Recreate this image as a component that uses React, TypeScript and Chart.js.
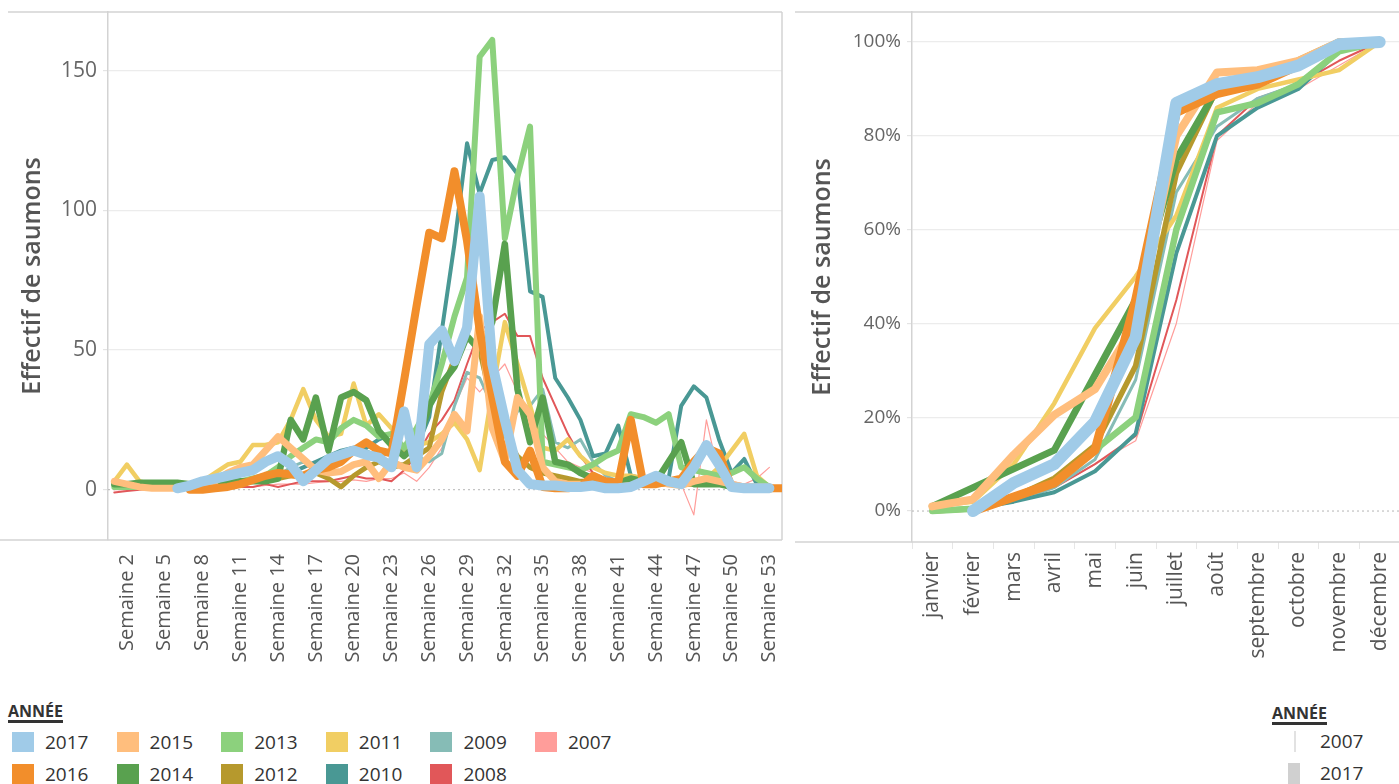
import React, { useEffect, useRef } from "react";
import { Chart, registerables } from "chart.js";
Chart.register(...registerables);

// ---------- data ----------
const years = ["2017", "2016", "2015", "2014", "2013", "2012", "2011", "2010", "2009", "2008", "2007"];
const yearColors = ["#a0cbe8", "#f28e2b", "#ffbe7d", "#59a14f", "#8cd17d", "#b6992d", "#f1ce63", "#499894", "#86bcb6", "#e15759", "#ff9d9a"];

const weeks = [
  1, 2, 3, 4, 5, 6, 7, 8, 9, 10, 11, 12, 13, 14, 15, 16, 17, 18, 19, 20, 21, 22, 23, 24, 25, 26, 27,
  28, 29, 30, 31, 32, 33, 34, 35, 36, 37, 38, 39, 40, 41, 42, 43, 44, 45, 46, 47, 48, 49, 50, 51, 52, 53, 54,
];
const weekTicks = [2, 5, 8, 11, 14, 17, 20, 23, 26, 29, 32, 35, 38, 41, 44, 47, 50, 53];
const weeklyYTicks = [0, 50, 100, 150];

const w2017 = [null, null, null, null, null, 0.5, 1.5, 3, 4, 5, 6, 7, 10, 12, 9, 3, 7, 11, 12.5, 14, 12.5, 11.5, 8, 28, 8, 52, 57, 46, 58, 105, 45, 25, 7, 2, 1.5, 1.5, 1, 1, 1.5, 0.5, 0.5, 1, 3, 5, 3, 2, 8, 16, 9, 1, 0.5, 0.5, 0.5, null];
const w2016 = [null, null, null, null, null, null, 0, 0, 0.5, 1, 2, 3.5, 5, 6, 5.5, 5, 7, 8, 10, 14, 17, 14, 13, 39, 66, 92, 90, 114, 89, 57, 33, 10, 5, 14, 1, 0.5, 0.5, 1, 5, 3, 2.5, 25, 2, 2, 3, 4, 10, 15, 13, 1, 0.5, 0.5, 0.5, 0.5];
const w2015 = [3, 2, 1, 0.5, 0.5, 0.5, 1, 1, 3, 6, 8, 9, 14, 19, 15, 11, 7, 6, 6.5, 9, 10, 4, 10, 8, 7, 12, 18, 27, 21, 62, 22, 10, 33, 27, 8, 3, 2, 2, 1.5, 1, 1, 1.5, 2, 3, 2, 1.5, 3, 4, 3, 2, 1, 1, 1, null];
const w2014 = [2, 2, 2.5, 2.5, 2.5, 2.5, 2, 2, 2, 2.5, 3, 3, 3, 4, 25, 18, 33, 14, 33, 35, 32, 21, 16, 12, 16, 30, 38, 44, 55, 50, 60, 88, 36, 17, 33, 10, 9, 6, 4, 3, 2.5, 4, 3, 3, 10, 17, 2, 2, 2, 1, 1, 1, 1, null];
const w2013 = [1, 1, 1, 1.5, 1.5, 1.5, 2, 2, 2, 2.5, 3, 4, 5, 8, 12, 15, 18, 17, 22, 25, 23, 19, 20, 15, 22, 30, 45, 62, 76, 155, 161, 90, 112, 130, 10, 9, 8, 7, 9, 12, 14, 27, 26, 24, 27, 8, 7, 6, 5, 6, 8, 4, 1, null];
const w2012 = [1.5, 1.5, 1.5, 1.5, 2, 2, 2, 2, 2, 2.5, 3, 3, 3.5, 4, 5, 5, 6, 4, 1, 5, 8, 10, 8, 9, 12, 15, 35, 47, 55, 50, 30, 20, 12, 8, 6, 5, 4, 3, 3, 2, 2, 2, 2, 2, 2, 2, 2, 2, 2, 1.5, 1, 1, 1, null];
const w2011 = [3, 9, 3, 2, 2, 2, 2, 3, 6, 9, 10, 16, 16, 17, 25, 36, 25, 19, 20, 38, 23, 27, 22, 14, 16, 17, 20, 24, 18, 7, 35, 60, 45, 30, 15, 14, 18, 12, 8, 6, 5, 5, 4, 3, 3, 3, 3, 4, 8, 14, 20, 5, 1, null];
const w2010 = [1, 1, 1, 1, 1.5, 1.5, 2, 2, 2, 2, 3, 3, 4, 5, 6, 8, 10, 12, 14, 15, 15, 18, 20, 12, 15, 26, 57, 88, 124, 106, 118, 119, 113, 71, 69, 40, 33, 25, 12, 13, 23, 5, 4, 5, 4, 30, 37, 33, 18, 6, 11, 2, 1, null];
const w2009 = [1, 1, 1, 1, 1.5, 1.5, 1.5, 2, 2, 2, 2.5, 3, 3, 5, 8, 10, 8, 10, 12, 15, 14, 12, 10, 9, 12, 10, 13, 30, 42, 40, 30, 20, 28, 30, 36, 17, 15, 18, 10, 5, 3, 3, 2, 2, 2, 2, 2, 2, 1.5, 1.5, 1, 1, 1, null];
const w2008 = [-1, -0.5, 0, 0.5, 0.5, 0.5, 0.5, 0.5, 1, 1, 1, 1, 2, 1, 2, 3, 3, 3, 4, 5, 4, 4, 3, 7, 12, 20, 25, 32, 45, 57, 60, 63, 55, 55, 40, 30, 20, 12, 6, 4, 3, 3, 2, 2, 2, 2, 2, 2, 1.5, 1, 1, 1, 1, null];
const w2007 = [0, 0, 0, 0, 0.5, 0.5, 0.5, 0.5, 1, 1, 1, 1, 1.5, 2, 2, 2, 2.5, 3, 3, 3.5, 3, 4, 4, 6, 3, 8, 15, 30, 40, 35, 40, 45, 35, 25, 20, 15, 10, 8, 6, 4, 3, 3, 2, 2, 3, 2, -9, 25, 5, 3, 2, 4, 8, null];
const weeklySeries = [w2017, w2016, w2015, w2014, w2013, w2012, w2011, w2010, w2009, w2008, w2007];

const months = ["janvier", "février", "mars", "avril", "mai", "juin", "juillet", "août", "septembre", "octobre", "novembre", "décembre"];
const pctYTicks = [0, 20, 40, 60, 80, 100];
const m2017 = [null, 0, 6, 10, 19, 37, 87, 91, 92.5, 95, 99.5, 100];
const m2016 = [null, 0, 3, 6, 13, 45, 85, 89, 91, 95, 99.5, 100];
const m2015 = [1, 2.5, 12, 20.5, 26, 40, 80, 93.5, 94, 96, 100, 100];
const m2014 = [1, 5, 9, 13, 29, 45, 75, 90, 93, 96, 100, 100];
const m2013 = [0, 0.5, 3, 6, 13, 20, 60, 85, 87, 91, 98, 100];
const m2012 = [0, 0.5, 3, 7, 14, 31, 72, 90, 93, 96, 100, 100];
const m2011 = [1, 2, 10, 23, 39, 50, 63, 86, 90, 92, 94, 100];
const m2010 = [0, 0.5, 2, 4, 8.5, 16.5, 55, 80, 86, 90, 98, 100];
const m2009 = [0, 0.5, 2, 5, 11, 28, 68, 82, 88, 91, 98, 100];
const m2008 = [0, 0.5, 2, 5, 10, 16, 45, 80, 88, 91, 96, 100];
const m2007 = [0, 0.5, 2, 5, 10, 15, 40, 79, 87, 90, 95, 100];
const monthlySeries = [m2017, m2016, m2015, m2014, m2013, m2012, m2011, m2010, m2009, m2008, m2007];

const leftWidths = [10, 8, 7, 6.5, 6, 5, 4.5, 4, 3, 2, 1.2];
const rightWidths = [12, 9, 8, 7, 6.5, 5.5, 4.5, 4, 3, 2, 1.2];

// legend layout: columns of two (column-major)
const legendColumns = [["2017", "2016"], ["2015", "2014"], ["2013", "2012"], ["2011", "2010"], ["2009", "2008"], ["2007"]];

const FONT = '"Open Sans", "DejaVu Sans", sans-serif';
const FRAME = "#d3d3d3";

const framePlugin = {
  id: "frame",
  beforeDatasetsDraw(chart: any, _args: any, opts: any) {
    const { ctx, chartArea: a } = chart;
    ctx.save();
    const y0 = chart.scales.y.getPixelForValue(0);
    ctx.strokeStyle = "#b5b5b5";
    ctx.lineWidth = 1;
    ctx.setLineDash([2, 3]);
    ctx.beginPath();
    ctx.moveTo(a.left, y0);
    ctx.lineTo(a.right, y0);
    ctx.stroke();
    ctx.setLineDash([]);
    ctx.strokeStyle = FRAME;
    ctx.lineWidth = 1.5;
    const right = opts.rightBorder ? a.right : chart.width;
    ctx.beginPath();
    ctx.moveTo(opts.topFrom, a.top);
    ctx.lineTo(right, a.top);
    ctx.moveTo(opts.bottomFrom, a.bottom);
    ctx.lineTo(right, a.bottom);
    if (opts.rightBorder) {
      ctx.moveTo(a.right, a.top);
      ctx.lineTo(a.right, a.bottom);
    }
    ctx.stroke();
    ctx.restore();
  },
};

function gridColor(ctx: any) {
  return ctx.tick && ctx.tick.value === 0 ? "rgba(0,0,0,0)" : "#ececec";
}

function noPad(s: any) {
  s.paddingTop = 0;
  s.paddingBottom = 0;
  s.paddingLeft = 0;
  s.paddingRight = 0;
}

export default function App() {
  const leftRef = useRef<HTMLCanvasElement>(null);
  const rightRef = useRef<HTMLCanvasElement>(null);

  useEffect(() => {
    const leftDatasets = years.map((y, i) => ({
      label: y,
      data: weeks.map((w, j) => ({ x: w, y: weeklySeries[i][j] })),
      borderColor: yearColors[i],
      backgroundColor: yearColors[i],
      borderWidth: leftWidths[i],
      pointRadius: 0,
      tension: 0,
      fill: false,
      borderJoinStyle: "round",
      borderCapStyle: "round",
    }));
    const rightDatasets = years.map((y, i) => ({
      label: y,
      data: monthlySeries[i],
      borderColor: yearColors[i],
      backgroundColor: yearColors[i],
      borderWidth: rightWidths[i],
      pointRadius: 0,
      tension: 0,
      fill: false,
      borderJoinStyle: "round",
      borderCapStyle: "round",
    }));

    const yTitle = {
      display: true,
      text: "Effectif de saumons",
      color: "#555",
      font: { family: FONT, size: 25, weight: "600" },
      padding: { top: 18, bottom: 0 },
    };

    const left = new Chart(leftRef.current as HTMLCanvasElement, {
      type: "line",
      data: { datasets: leftDatasets as any },
      plugins: [framePlugin],
      options: {
        responsive: false,
        animation: false,
        layout: { padding: { top: 12, right: 8, left: 0, bottom: 0 } },
        plugins: {
          legend: { display: false },
          tooltip: { enabled: false },
          frame: { topFrom: 8, bottomFrom: 0, rightBorder: true },
        } as any,
        scales: {
          x: {
            type: "linear",
            min: 0.5,
            max: 54,
            afterBuildTicks: (s: any) => {
              s.ticks = weekTicks.map((v) => ({ value: v }));
            },
            afterFit: (s: any) => {
              s.height = 150;
              noPad(s);
            },
            grid: { display: false },
            border: { display: false },
            ticks: {
              autoSkip: false,
              maxRotation: 90,
              minRotation: 90,
              padding: 6,
              color: "#555",
              font: { family: FONT, size: 20 },
              callback: (v: any) => "Semaine " + v,
            },
          },
          y: {
            min: -18,
            max: 171,
            afterBuildTicks: (s: any) => {
              s.ticks = weeklyYTicks.map((v) => ({ value: v }));
            },
            afterFit: (s: any) => {
              s.width = 108;
              noPad(s);
            },
            grid: { color: gridColor, lineWidth: 1.2, tickLength: 5, tickColor: "#e4e4e4" },
            border: { display: true, color: FRAME, width: 1.5 },
            ticks: { padding: 6, color: "#666", font: { family: FONT, size: 21 } },
            title: yTitle,
          },
        },
      } as any,
    });

    const right = new Chart(rightRef.current as HTMLCanvasElement, {
      type: "line",
      data: { labels: months, datasets: rightDatasets as any },
      plugins: [framePlugin],
      options: {
        responsive: false,
        animation: false,
        layout: { padding: { top: 12, right: 0, left: 0, bottom: 0 } },
        plugins: {
          legend: { display: false },
          tooltip: { enabled: false },
          frame: { topFrom: 0, bottomFrom: 0, rightBorder: false },
        } as any,
        scales: {
          x: {
            type: "category",
            offset: true,
            afterFit: (s: any) => {
              s.height = 148;
              noPad(s);
            },
            grid: { display: true, drawOnChartArea: false, drawTicks: true, tickLength: 7, color: "#e6e6e6", offset: true },
            border: { display: false },
            ticks: {
              autoSkip: false,
              maxRotation: 90,
              minRotation: 90,
              padding: 3,
              color: "#555",
              font: { family: FONT, size: 21 },
            },
          },
          y: {
            min: -6.6,
            max: 106.4,
            afterBuildTicks: (s: any) => {
              s.ticks = pctYTicks.map((v) => ({ value: v }));
            },
            afterFit: (s: any) => {
              s.width = 117;
              noPad(s);
            },
            grid: { color: gridColor, lineWidth: 1.2, tickLength: 5, tickColor: "#e4e4e4" },
            border: { display: true, color: FRAME, width: 1.5 },
            ticks: {
              padding: 6,
              color: "#666",
              font: { family: FONT, size: 19 },
              callback: (v: any) => v + "%",
            },
            title: { ...yTitle, padding: { top: 13, bottom: 0 } },
          },
        },
      } as any,
    });

    return () => {
      left.destroy();
      right.destroy();
    };
  }, []);

  const legendText = { fontFamily: FONT, fontSize: 19, color: "#333" } as React.CSSProperties;
  const legendTitle = {
    position: "absolute",
    fontFamily: FONT,
    fontSize: 16,
    fontWeight: 700,
    color: "#333",
    textDecoration: "underline",
    textDecorationThickness: "3px",
    textUnderlineOffset: "3px",
  } as React.CSSProperties;

  return (
    <div style={{ position: "absolute", left: 0, top: 0, width: 1399, height: 784, overflow: "hidden", background: "#fff" }}>
      <canvas ref={leftRef} width={790} height={690} style={{ position: "absolute", left: 0, top: 0 }} />
      <canvas ref={rightRef} width={605} height={690} style={{ position: "absolute", left: 795, top: 0 }} />

      <div style={{ ...legendTitle, left: 8, top: 700 }}>ANNÉE</div>
      {legendColumns.map((col, ci) =>
        col.map((yr, ri) => {
          const idx = years.indexOf(yr);
          return (
            <div key={yr} style={{ position: "absolute", left: 12 + ci * 104.6, top: 731 + ri * 32, height: 22, display: "flex", alignItems: "center" }}>
              <div style={{ width: 22, height: 20, background: yearColors[idx] }} />
              <span style={{ ...legendText, marginLeft: 11, lineHeight: "22px" }}>{yr}</span>
            </div>
          );
        })
      )}

      <div style={{ ...legendTitle, left: 1272, top: 702 }}>ANNÉE</div>
      <div style={{ position: "absolute", left: 1294, top: 731, width: 2, height: 21, background: "#e2e2e2" }} />
      <span style={{ ...legendText, position: "absolute", left: 1320, top: 729, lineHeight: "24px" }}>2007</span>
      <div style={{ position: "absolute", left: 1288, top: 763, width: 12, height: 22, background: "#d0d0d0" }} />
      <span style={{ ...legendText, position: "absolute", left: 1320, top: 761, lineHeight: "24px" }}>2017</span>
    </div>
  );
}
